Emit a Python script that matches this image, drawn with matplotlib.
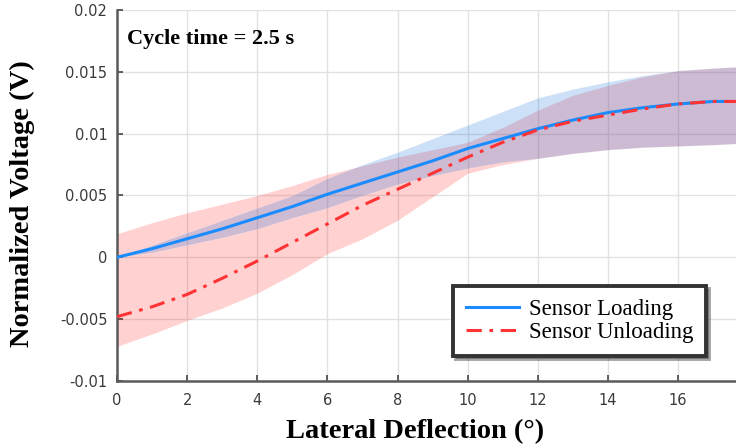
import numpy as np
import matplotlib
matplotlib.use('Agg')
import matplotlib.pyplot as plt

# Lateral deflection (deg) sample points
deflection = [0, 1, 2, 3, 4, 5, 6, 7, 8, 9, 10, 11, 12, 13, 14, 15, 16, 17, 17.65]

# Sensor loading: mean and band
load_mean = [0.0000, 0.0007, 0.0015, 0.0023, 0.0032, 0.0041, 0.0051, 0.0060, 0.0069, 0.0078,
             0.0088, 0.0096, 0.0104, 0.0111, 0.0117, 0.0121, 0.0124, 0.0126, 0.0126]
load_upper = [0.0000, 0.0010, 0.0020, 0.0030, 0.0040, 0.0050, 0.0064, 0.0075, 0.0085, 0.0096,
              0.0107, 0.0118, 0.0129, 0.0136, 0.0142, 0.0147, 0.0151, 0.0153, 0.0154]
load_lower = [0.0000, 0.0004, 0.0010, 0.0016, 0.0023, 0.0032, 0.0040, 0.0050, 0.0059, 0.0066,
              0.0072, 0.0077, 0.0080, 0.0084, 0.0087, 0.0089, 0.0090, 0.0091, 0.0092]

# Sensor unloading: mean and band
unload_mean = [-0.0048, -0.0040, -0.0030, -0.0017, -0.0003, 0.0012, 0.0027, 0.0042, 0.0055, 0.0068,
               0.0081, 0.0093, 0.0103, 0.0110, 0.0115, 0.0120, 0.0124, 0.0126, 0.0126]
unload_upper = [0.0019, 0.0028, 0.0036, 0.0043, 0.0050, 0.0058, 0.0067, 0.0074, 0.0081, 0.0087,
                0.0093, 0.0105, 0.0119, 0.0131, 0.0139, 0.0146, 0.0151, 0.0153, 0.0154]
unload_lower = [-0.0072, -0.0062, -0.0051, -0.0041, -0.0029, -0.0014, 0.0003, 0.0015, 0.0030, 0.0049,
                0.0068, 0.0075, 0.0080, 0.0084, 0.0087, 0.0089, 0.0090, 0.0091, 0.0092]

x_ticks = [0, 2, 4, 6, 8, 10, 12, 14, 16]
y_ticks = [-0.01, -0.005, 0, 0.005, 0.01, 0.015, 0.02]
y_tick_labels = ['-0.01', '-0.005', '0', '0.005', '0.01', '0.015', '0.02']

fig = plt.figure(figsize=(7.36, 4.48), dpi=100)
ax = fig.add_axes([0.159, 0.1496, 0.841, 0.8282])

# shaded bands (unloading first, loading on top)
ax.fill_between(deflection, unload_lower, unload_upper, color='#ff0000', alpha=0.18,
                linewidth=0, zorder=2)
ax.fill_between(deflection, load_lower, load_upper, color='#0066dd', alpha=0.2,
                edgecolor='white', linewidth=0.6, zorder=3)

ax.plot(deflection, load_mean, color='#1a8cff', lw=2.2, label='Sensor Loading', zorder=5)
ax.plot(deflection, unload_mean, color='#ff3333', lw=2.2, linestyle=(0, (5, 2.5, 1.2, 2.5)),
        label='Sensor Unloading', zorder=5)

ax.set_xlim(0, 17.65)
ax.set_ylim(-0.01, 0.02)
ax.set_xticks(x_ticks)
ax.set_yticks(y_ticks)
ax.set_yticklabels(y_tick_labels)
ax.grid(True, color='#e2e2e2', lw=1.0, zorder=0)
ax.set_axisbelow(True)

for s in ['top', 'right']:
    ax.spines[s].set_visible(False)
for s in ['left', 'bottom']:
    ax.spines[s].set_color('#5a5a5a')
    ax.spines[s].set_linewidth(1.8)
ax.tick_params(direction='in', length=4, width=1.2, color='#444444',
               labelcolor='#3a3a3a', labelsize=10.5)
ax.tick_params(axis='x', pad=9)
ax.tick_params(axis='y', pad=7)
for lbl in ax.get_xticklabels() + ax.get_yticklabels():
    lbl.set_fontfamily('DejaVu Sans')

ax.set_xlabel('Lateral Deflection (°)', fontfamily='Liberation Serif', fontweight='bold',
              fontsize=20.5)
ax.set_ylabel('Normalized Voltage (V)', fontfamily='Liberation Serif', fontweight='bold',
              fontsize=20.5)
ax.xaxis.set_label_coords(0.481, -0.103)
ax.yaxis.set_label_coords(-0.132, 0.479)

ax.text(0.016, 0.922, 'Cycle time = 2.5 s', transform=ax.transAxes,
        fontfamily='Liberation Serif', fontweight='bold', fontsize=16, va='center')

leg = ax.legend(loc='lower right', bbox_to_anchor=(0.9515, 0.0674), borderaxespad=0,
                fancybox=False, shadow=True,
                prop={'family': 'Liberation Serif', 'size': 16.5}, handlelength=2.3,
                handletextpad=0.45, borderpad=0.55, labelspacing=0.1, framealpha=1)
leg.get_frame().set_edgecolor('#333333')
leg.get_frame().set_linewidth(2.8)

fig.savefig('out.png', dpi=100)
